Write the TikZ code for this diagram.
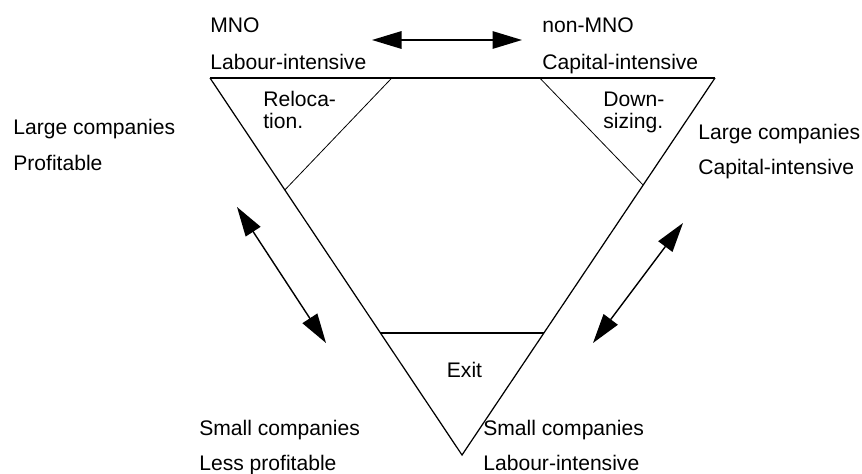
\documentclass[tikz,border=0pt]{standalone}
\usepackage{fontspec}
\setmainfont{Liberation Sans}
\usetikzlibrary{positioning,arrows.meta,calc}
\tikzset{
  twoway/.style={{Triangle[length=5.9mm,width=3.5mm]}-{Triangle[length=5.9mm,width=3.5mm]}, line width=0.8pt},
  sideline/.style={line width=0.7pt},
  cutline/.style={line width=0.45pt},
  baseline/.style={line width=1.1pt},
  lbl/.style={font=\fontsize{12}{14}\selectfont, inner sep=0pt, anchor=base west},
  inlbl/.style={font=\fontsize{12}{14}\selectfont, inner sep=0pt, anchor=base}
}
\begin{document}
\begin{tikzpicture}
  \useasboundingbox (0,0) rectangle (17.24,9.46);
  % the triangle
  \coordinate (tl) at (4.20,7.90);
  \coordinate (tr) at (14.30,7.90);
  \coordinate (bt) at (9.24,0.36);
  \draw[baseline] (tl) -- (tr);
  \draw[sideline] (tl) -- (bt) -- (tr);
  % corners cut off
  \draw[cutline] ($(tl)!0.36!(tr)$) -- ($(tl)!0.297!(bt)$);
  \draw[cutline] ($(tl)!0.653!(tr)$) -- ($(tr)!0.284!(bt)$);
  \draw[baseline] ($(tl)!0.676!(bt)$) -- ($(tr)!0.676!(bt)$);
  % labels at the corners
  \node[lbl] (mno) at (4.20,8.80) {MNO};
  \node[lbl] (labtop) at (4.20,8.08) {Labour-intensive};
  \node[lbl] (nonmno) at (10.84,8.80) {non-MNO};
  \node[lbl] (captop) at (10.84,8.08) {Capital-intensive};
  \node[lbl] (largel) at (0.26,6.78) {Large companies};
  \node[lbl] (profit) at (0.26,6.06) {Profitable};
  \node[lbl] (larger) at (13.96,6.68) {Large companies};
  \node[lbl] (capr) at (13.96,5.98) {Capital-intensive};
  \node[lbl] (smalll) at (3.98,0.76) {Small companies};
  \node[lbl] (lessp) at (3.98,0.06) {Less profitable};
  \node[lbl] (smallr) at (9.66,0.76) {Small companies};
  \node[lbl] (labr) at (9.66,0.06) {Labour-intensive};
  % labels inside
  \node[lbl] (reloc) at (5.26,7.32) {Reloca-};
  \node[lbl] (relocb) at (5.26,6.90) {tion.};
  \node[lbl] (down) at (12.06,7.32) {Down-};
  \node[lbl] (downb) at (12.06,6.90) {sizing.};
  \node[inlbl] (exit) at (9.29,1.92) {Exit};
  % arrows
  \coordinate (ta) at (7.44,8.66);
  \coordinate (tb) at (10.44,8.66);
  \coordinate (la) at (4.74,5.32);
  \coordinate (lb) at (6.52,2.60);
  \coordinate (ra) at (11.86,2.60);
  \coordinate (rb) at (13.66,5.00);
  \draw[twoway] (ta) -- (tb);
  \draw[twoway] (la) -- (lb);
  \draw[twoway] (ra) -- (rb);
\end{tikzpicture}
\end{document}
